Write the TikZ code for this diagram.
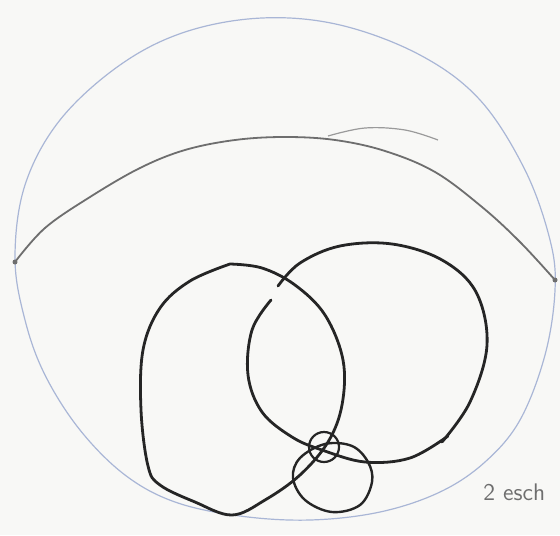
\documentclass[tikz,border=0pt]{standalone}
\usepackage{tikz}
\usetikzlibrary{calc}
\definecolor{sblue}{HTML}{A9B6D6}
\definecolor{sgray}{HTML}{6E6E6E}
\definecolor{sink}{HTML}{252525}
\definecolor{spaper}{HTML}{F8F8F6}
\tikzset{
  globe/.style={draw=sblue, line width=0.6pt, smooth cycle, tension=0.6},
  rim/.style={draw=sgray, line width=0.9pt, smooth, tension=0.6},
  loopline/.style={draw=sink, line width=1.4pt, smooth, tension=0.6, line cap=round},
  note/.style={font=\sffamily\large, text=sgray, anchor=west, inner sep=0pt},
}

\begin{document}
\begin{tikzpicture}[x=0.5pt, y=-0.5pt]
  \fill[spaper] (0,0) rectangle (560,535);
  \useasboundingbox (0,0) rectangle (560,535);
  % outer sphere
  \draw[globe] plot coordinates {(262,18) (340,25) (420,55) (480,100) (525,170)
    (550,240) (555,290) (545,355) (520,420) (485,462) (440,492) (380,512)
    (310,520) (240,516) (175,502) (125,475) (80,430) (45,375) (25,320)
    (15,258) (25,185) (60,120) (120,65) (185,32)};
  % equator
  \coordinate (eqw) at (15,262);
  \coordinate (eqe) at (555,280);
  \draw[rim] plot coordinates {(15,262) (45,228) (90,197) (140,168) (185,150)
    (235,140) (285,137) (335,140) (385,151) (435,172) (482,207) (520,242) (555,280)};
  \fill[sgray] (eqw) circle (2.5);
  \fill[sgray] (eqe) circle (2.5);
  \draw[rim, line width=0.6pt, sgray!70] plot coordinates {(328,136) (365,128) (405,130) (438,140)};
  % left loop
  \draw[loopline] plot coordinates {(230,264) (262,268) (295,285) (325,315)
    (343,360) (342,405) (328,442) (300,475) (265,500) (232,515) (195,502)
    (160,485) (148,466) (141,410) (143,350) (160,308) (190,281) (230,264)};
  % right loop
  \draw[loopline] plot coordinates {(271,300) (252,330) (248,375) (262,412)
    (292,437) (322,450) (365,462) (410,458) (448,436)};
  \draw[loopline] plot coordinates {(442,442) (470,402) (487,345) (476,292)
    (442,260) (392,244) (340,246) (300,263) (278,286)};
  % lower rings
  \draw[loopline, line width=1.1pt] (324,447) ellipse (15 and 15);
  \draw[loopline, line width=1.2pt] plot[smooth cycle] coordinates {(300,458) (325,444)
    (352,446) (368,462) (372,482) (360,505) (332,512) (305,500) (293,478)};
  \node[note] (lbl) at (483,492) {2\,\,esch};
\end{tikzpicture}
\end{document}
